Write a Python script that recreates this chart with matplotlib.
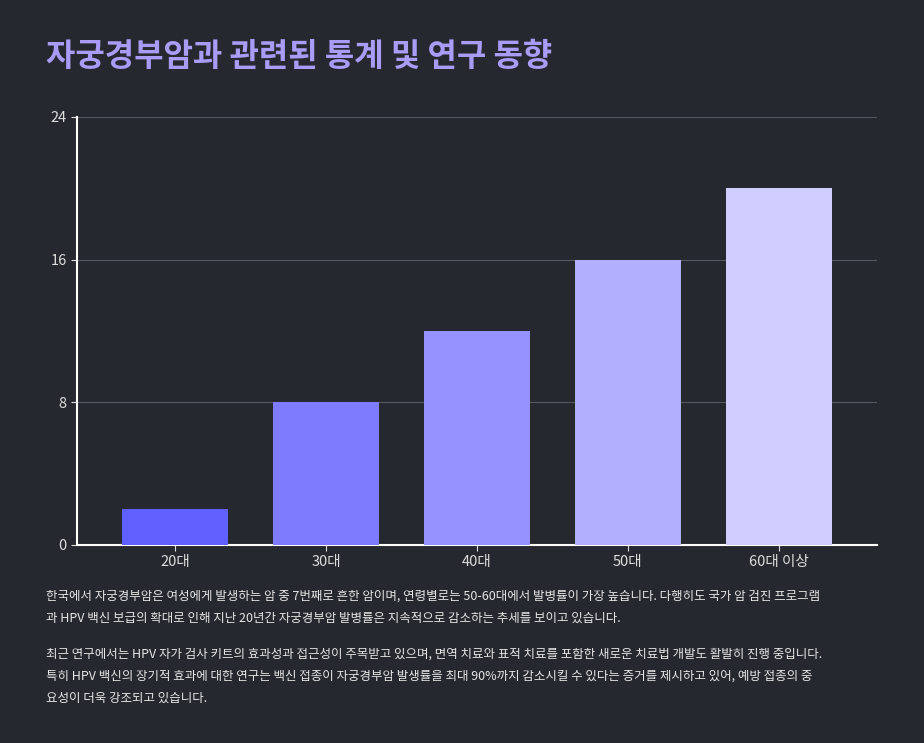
import matplotlib
matplotlib.use("Agg")
import matplotlib.pyplot as plt

categories = ["20대", "30대", "40대", "50대", "60대 이상"]
values = [2, 8, 12, 16, 20]
bar_colors = ["#6060ff", "#7f7bff", "#9591ff", "#b3afff", "#d0cdff"]
yticks = [0, 8, 16, 24]
title = "자궁경부암과 관련된 통계 및 연구 동향"
para1 = ("한국에서 자궁경부암은 여성에게 발생하는 암 중 7번째로 흔한 암이며, 연령별로는 50-60대에서 발병률이 가장 높습니다. 다행히도 국가 암 검진 프로그램\n"
         "과 HPV 백신 보급의 확대로 인해 지난 20년간 자궁경부암 발병률은 지속적으로 감소하는 추세를 보이고 있습니다.")
para2 = ("최근 연구에서는 HPV 자가 검사 키트의 효과성과 접근성이 주목받고 있으며, 면역 치료와 표적 치료를 포함한 새로운 치료법 개발도 활발히 진행 중입니다.\n"
         "특히 HPV 백신의 장기적 효과에 대한 연구는 백신 접종이 자궁경부암 발생률을 최대 90%까지 감소시킬 수 있다는 증거를 제시하고 있어, 예방 접종의 중\n"
         "요성이 더욱 강조되고 있습니다.")

plt.rcParams["font.family"] = "Noto Sans CJK KR"
bg = "#262830"
W, H = 924, 743
fig = plt.figure(figsize=(W/100, H/100), dpi=100, facecolor=bg)
ax = fig.add_axes([77/W, 1-545/H, 800/W, 428/H], facecolor=bg)
x = range(len(categories))
ax.bar(x, values, width=0.7, color=bar_colors, zorder=3)
ax.set_xlim(-0.65, len(categories)-0.35)
ax.set_ylim(0, 24)
ax.set_yticks(yticks)
ax.set_xticks(list(x))
ax.set_xticklabels(categories)
ax.tick_params(colors="#dddddd", labelsize=10.5, length=4)
ax.grid(axis="y", color="#555860", linewidth=0.8, zorder=0)
for s in ["top", "right"]:
    ax.spines[s].set_visible(False)
for s in ["left", "bottom"]:
    ax.spines[s].set_color("#ffffff")
    ax.spines[s].set_linewidth(1.5)

fig.text(46/W, 1-57/H, title, color="#a99cf7", fontsize=23, fontweight="bold", va="center")
fig.text(46/W, 1-607/H, para1, color="#e6e6e6", fontsize=9, va="center", linespacing=1.9)
fig.text(46/W, 1-676/H, para2, color="#e6e6e6", fontsize=9, va="center", linespacing=1.9)
fig.savefig("out.png", dpi=100, facecolor=bg)
